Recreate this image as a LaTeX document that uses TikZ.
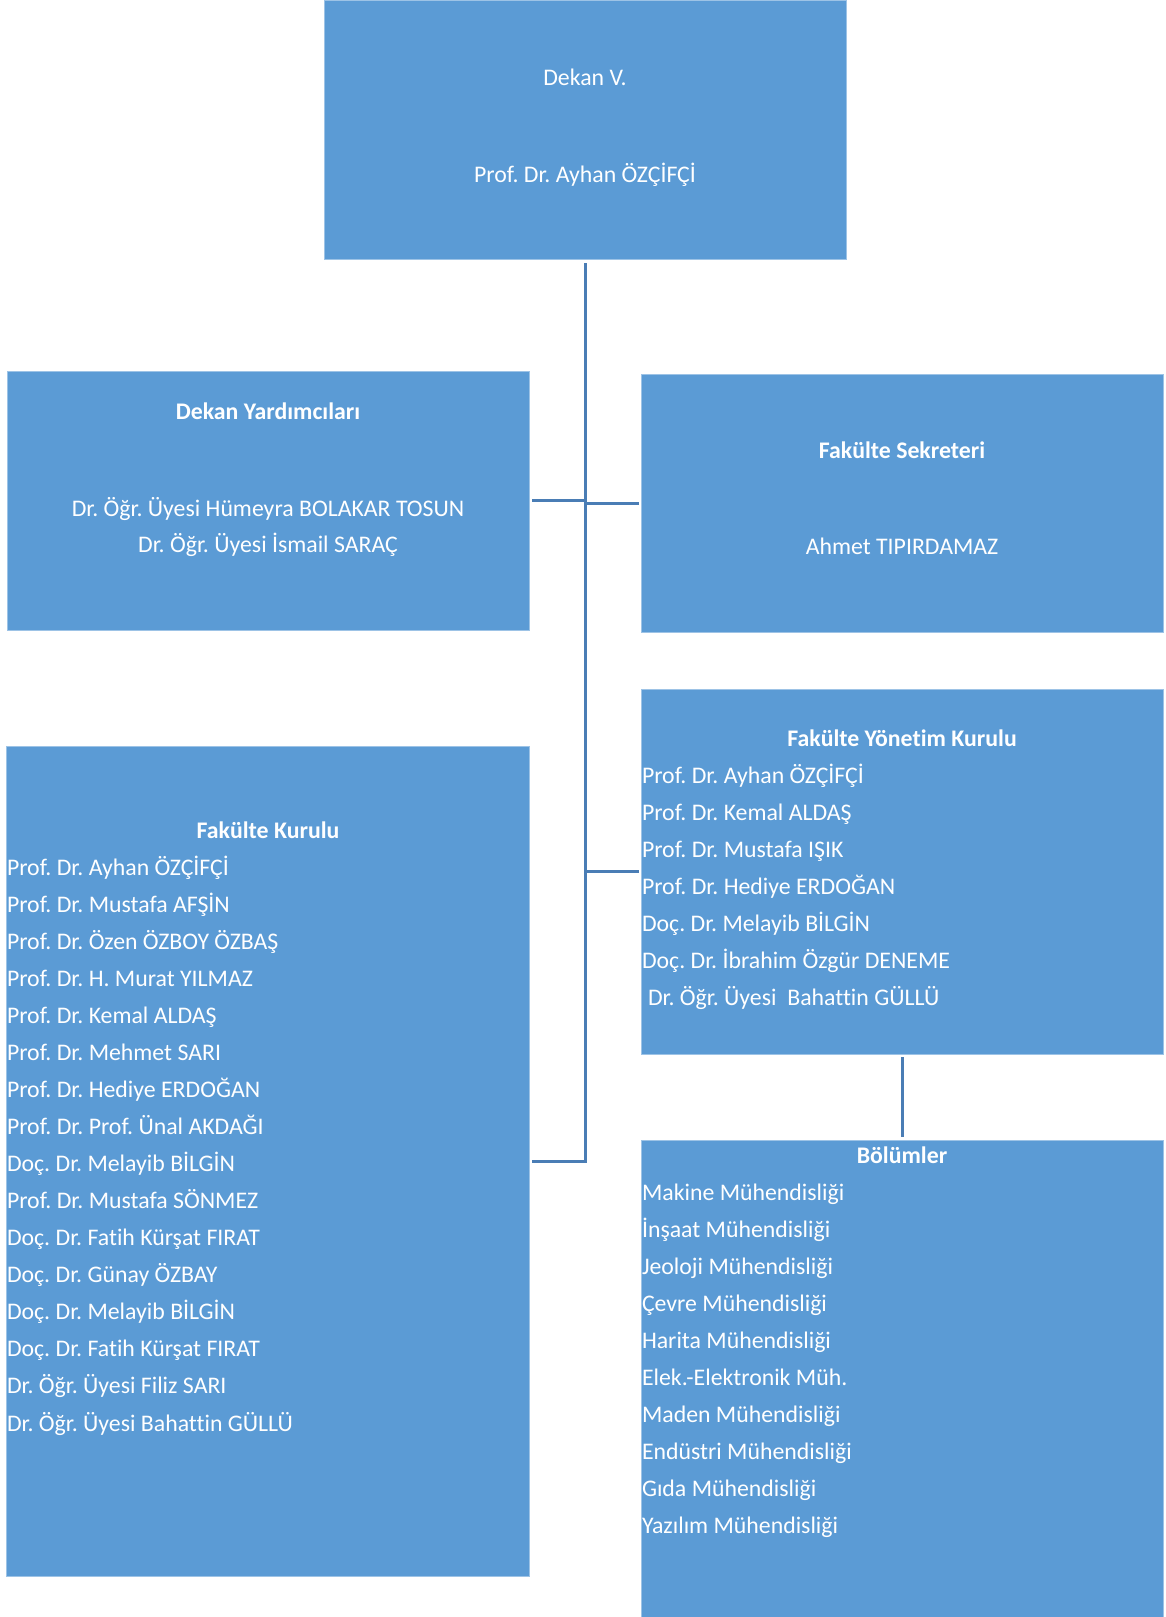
\documentclass[tikz,border=0pt]{standalone}
\usepackage{fontspec}
\setmainfont[Ligatures=NoCommon]{Carlito}
\frenchspacing
\definecolor{boxfill}{HTML}{5B9BD5}
\definecolor{boxedge}{HTML}{9DC3E6}
\definecolor{linec}{HTML}{4A7DB5}
\begin{document}
\begin{tikzpicture}[x=1pt,y=-1pt,
  box/.style={fill=boxfill,draw=boxedge,line width=0.8pt,inner sep=0pt,outer sep=0pt,anchor=north west},
  conn/.style={draw=linec,line width=3pt,line join=miter},
  txt/.style={text=white,inner sep=0pt,outer sep=0pt,font=\fontsize{23.8}{28}\selectfont\frenchspacing},
  ctr/.style={txt,anchor=base},
  lft/.style={txt,anchor=base west},
  ttl/.style={txt,anchor=base,font=\fontsize{23.8}{28}\selectfont\bfseries}]
\useasboundingbox (0,0) rectangle (1166,1617);
% boxes
\node[box,minimum width=522pt,minimum height=259pt] (dekan) at (324,0) {};
\node[box,minimum width=522pt,minimum height=259pt] (dy) at (7,371) {};
\node[box,minimum width=522pt,minimum height=258pt] (fs) at (641,374) {};
\node[box,minimum width=522pt,minimum height=365pt] (fyk) at (641,689) {};
\node[box,minimum width=523pt,minimum height=830pt] (fk) at (6,746) {};
\node[box,minimum width=522pt,minimum height=480pt] (bol) at (641,1140) {};
% connectors
\draw[conn,shorten <=4pt] (dekan.south) -- (dekan.south |- fk.east) -- ([xshift=3pt]fk.east);
\draw[conn,shorten <=3pt] (dy.east) -- (dy.east -| dekan.south);
\draw[conn,shorten <=2pt] (fs.west) -- (fs.west -| dekan.south);
\draw[conn,shorten <=2pt] (fyk.west) -- (fyk.west -| dekan.south);
\draw[conn,shorten <=3pt,shorten >=3pt] (fyk.south -| 902,0) -- (bol.north -| 902,0);
% Dekan
\node[ctr] (d1) at (585,85) {Dekan V.};
\node[ctr] (d2) at (585,182) {Prof. Dr. Ayhan ÖZÇİFÇİ};
% Dekan Yardimcilari
\node[ttl] (dyt) at (268,419) {Dekan Yardımcıları};
\node[ctr] (dy1) at (268,516) {Dr. Öğr. Üyesi Hümeyra BOLAKAR TOSUN};
\node[ctr] (dy2) at (268,552) {Dr. Öğr. Üyesi İsmail SARAÇ};
% Fakulte Sekreteri
\node[ttl] (fst) at (902,458) {Fakülte Sekreteri};
\node[ctr] (fs1) at (902,554) {Ahmet TIPIRDAMAZ};
% Fakulte Yonetim Kurulu
\node[ttl] (fykt) at (902,746) {Fakülte Yönetim Kurulu};
\foreach \t [count=\i] in {Prof. Dr. Ayhan ÖZÇİFÇİ,Prof. Dr. Kemal ALDAŞ,Prof. Dr. Mustafa IŞIK,Prof. Dr. Hediye ERDOĞAN,Doç. Dr. Melayib BİLGİN,Doç. Dr. İbrahim Özgür DENEME}
  \node[lft] (fyk\i) at (642,783+37*\i-37) {\t};
\node[lft] (fyk7) at (648,1005) {Dr. Öğr. Üyesi\ \ Bahattin GÜLLÜ};
% Fakulte Kurulu
\node[ttl] (fkt) at (268,838) {Fakülte Kurulu};
\foreach \t [count=\i] in {Prof. Dr. Ayhan ÖZÇİFÇİ,Prof. Dr. Mustafa AFŞİN,Prof. Dr. Özen ÖZBOY ÖZBAŞ,Prof. Dr. H. Murat YILMAZ,Prof. Dr. Kemal ALDAŞ,Prof. Dr. Mehmet SARI,Prof. Dr. Hediye ERDOĞAN,Prof. Dr. Prof. Ünal AKDAĞI,Doç. Dr. Melayib BİLGİN,Prof. Dr. Mustafa SÖNMEZ,Doç. Dr. Fatih Kürşat FIRAT,Doç. Dr. Günay ÖZBAY,Doç. Dr. Melayib BİLGİN,Doç. Dr. Fatih Kürşat FIRAT,Dr. Öğr. Üyesi Filiz SARI,Dr. Öğr. Üyesi Bahattin GÜLLÜ}
  \node[lft] (fk\i) at (7,875+37.07*\i-37.07) {\t};
% Bolumler
\node[ttl] (bolt) at (902,1163) {Bölümler};
\foreach \t [count=\i] in {Makine Mühendisliği,İnşaat Mühendisliği,Jeoloji Mühendisliği,Çevre Mühendisliği,Harita Mühendisliği,Elek.-Elektronik Müh.,Maden Mühendisliği,Endüstri Mühendisliği,Gıda Mühendisliği,Yazılım Mühendisliği}
  \node[lft] (bol\i) at (642,1200+37*\i-37) {\t};
\end{tikzpicture}
\end{document}
